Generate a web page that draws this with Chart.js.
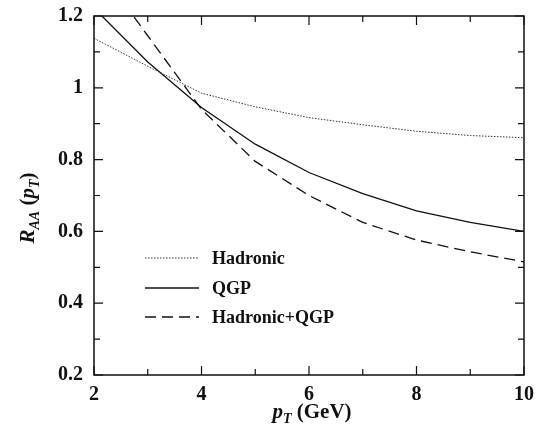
<!DOCTYPE html>
<html lang="en">
<head>
    <meta charset="UTF-8">
    <title>R_AA vs pT</title>
    <script src="https://cdn.jsdelivr.net/npm/chart.js"></script>
    <style>
        html, body { margin: 0; padding: 0; background: #fff; }
        #wrap { width: 543px; height: 428px; }
    </style>
</head>
<body>
    <div id="wrap"><canvas id="raaChart" width="543" height="428"></canvas></div>
    <script>
        // values
        const ptValues = [2, 3, 4, 5, 6, 7, 8, 9, 10];
        const hadronic = [1.138, 1.06, 0.985, 0.947, 0.917, 0.897, 0.879, 0.867, 0.861];
        const qgp = [1.222, 1.072, 0.945, 0.843, 0.764, 0.705, 0.657, 0.625, 0.600];
        const hadronicQgp = [1.35, 1.145, 0.94, 0.795, 0.70, 0.625, 0.576, 0.543, 0.515];
        const seriesLabels = ['Hadronic', 'QGP', 'Hadronic+QGP'];

        const xMajorTicks = [2, 4, 6, 8, 10];
        const xMinorTicks = [3, 5, 7, 9];
        const yMajorTicks = [0.2, 0.4, 0.6, 0.8, 1.0, 1.2];
        const yMinorTicks = [0.3, 0.5, 0.7, 0.9, 1.1];

        const serif = '"Liberation Serif", "DejaVu Serif", serif';

        function toPoints(ys) {
            return ptValues.map((x, i) => ({ x: x, y: ys[i] }));
        }

        // frame, inward ticks, axis titles, legend
        const decorPlugin = {
            id: 'decor',
            afterDraw(chart) {
                const ctx = chart.ctx;
                const a = chart.chartArea;
                const xs = chart.scales.x;
                const ys = chart.scales.y;
                ctx.save();
                ctx.strokeStyle = '#111';
                ctx.lineWidth = 1.5;
                ctx.strokeRect(a.left, a.top, a.right - a.left, a.bottom - a.top);

                ctx.lineWidth = 1.2;
                ctx.beginPath();
                const xt = (v, len) => {
                    const p = xs.getPixelForValue(v);
                    ctx.moveTo(p, a.bottom); ctx.lineTo(p, a.bottom - len);
                    ctx.moveTo(p, a.top); ctx.lineTo(p, a.top + len);
                };
                const yt = (v, len) => {
                    const p = ys.getPixelForValue(v);
                    ctx.moveTo(a.left, p); ctx.lineTo(a.left + len, p);
                    ctx.moveTo(a.right, p); ctx.lineTo(a.right - len, p);
                };
                xMajorTicks.forEach(v => xt(v, 9));
                xMinorTicks.forEach(v => xt(v, 6));
                yMajorTicks.forEach(v => yt(v, 9));
                yMinorTicks.forEach(v => yt(v, 6));
                ctx.stroke();

                // x title: p_T (GeV)
                ctx.fillStyle = '#111';
                ctx.textBaseline = 'alphabetic';
                ctx.textAlign = 'left';
                const big = 'bold italic 21px ' + serif;
                const sub = 'bold italic 14px ' + serif;
                const norm = 'bold 21px ' + serif;
                const parts = (list) => {
                    let w = 0;
                    list.forEach(p => { ctx.font = p[1]; w += ctx.measureText(p[0]).width; });
                    return w;
                };
                const drawParts = (list, x0, y0) => {
                    let x = x0;
                    list.forEach(p => {
                        ctx.font = p[1];
                        ctx.fillText(p[0], x, y0 + p[2]);
                        x += ctx.measureText(p[0]).width;
                    });
                };
                const xTitle = [['p', big, 0], ['T', sub, 5], [' (GeV)', norm, 0]];
                const xw = parts(xTitle);
                drawParts(xTitle, (a.left + a.right) / 2 - xw / 2 + 3, 418);

                // y title: R_AA (p_T)
                const yTitle = [['R', big, 0], ['AA', sub, 5], [' (', norm, 0], ['p', big, 0], ['T', sub, 5], [')', norm, 0]];
                const yw = parts(yTitle);
                ctx.translate(34, 208);
                ctx.rotate(-Math.PI / 2);
                drawParts(yTitle, -yw / 2, 0);
                ctx.restore();

                // legend inside the plot
                ctx.save();
                const rows = [258, 288, 317];
                chart.data.datasets.forEach((ds, i) => {
                    ctx.strokeStyle = ds.borderColor;
                    ctx.lineWidth = ds.borderWidth;
                    ctx.setLineDash(ds.borderDash || []);
                    ctx.beginPath();
                    ctx.moveTo(145, rows[i]);
                    ctx.lineTo(199, rows[i]);
                    ctx.stroke();
                    ctx.setLineDash([]);
                    ctx.fillStyle = '#111';
                    ctx.font = 'bold 18px ' + serif;
                    ctx.textBaseline = 'middle';
                    ctx.fillText(ds.label, 212, rows[i] + 1);
                });
                ctx.restore();
            }
        };

        new Chart(document.getElementById('raaChart').getContext('2d'), {
            type: 'line',
            data: {
                datasets: [
                    {
                        label: seriesLabels[0],
                        data: toPoints(hadronic),
                        borderColor: '#333',
                        borderWidth: 1,
                        borderDash: [1.5, 1.5]
                    },
                    {
                        label: seriesLabels[1],
                        data: toPoints(qgp),
                        borderColor: '#111',
                        borderWidth: 1.3
                    },
                    {
                        label: seriesLabels[2],
                        data: toPoints(hadronicQgp),
                        borderColor: '#111',
                        borderWidth: 1.3,
                        borderDash: [11, 6]
                    }
                ]
            },
            options: {
                responsive: false,
                animation: false,
                layout: { padding: { top: 16, right: 19, left: 0, bottom: 0 } },
                elements: {
                    point: { radius: 0 },
                    line: { tension: 0, fill: false }
                },
                datasets: { line: { clip: 0 } },
                plugins: {
                    legend: { display: false },
                    tooltip: { enabled: false }
                },
                scales: {
                    x: {
                        type: 'linear',
                        min: 2,
                        max: 10,
                        grid: { display: false, drawTicks: false },
                        border: { display: false },
                        afterFit(scale) {
                            scale.height = 53;
                            scale.paddingLeft = 0;
                            scale.paddingRight = 0;
                        },
                        afterBuildTicks(scale) { scale.ticks = xMajorTicks.map(v => ({ value: v })); },
                        ticks: {
                            color: '#111',
                            padding: 8,
                            maxRotation: 0,
                            font: { family: serif, size: 20, weight: 'bold' }
                        }
                    },
                    y: {
                        type: 'linear',
                        min: 0.2,
                        max: 1.2,
                        grid: { display: false, drawTicks: false },
                        border: { display: false },
                        afterFit(scale) {
                            scale.width = 94;
                            scale.paddingTop = 0;
                            scale.paddingBottom = 0;
                        },
                        afterBuildTicks(scale) { scale.ticks = yMajorTicks.map(v => ({ value: v })); },
                        ticks: {
                            color: '#111',
                            padding: 11,
                            font: { family: serif, size: 20, weight: 'bold' },
                            callback: v => String(Math.round(v * 10) / 10)
                        }
                    }
                }
            },
            plugins: [decorPlugin]
        });
    </script>
</body>
</html>
